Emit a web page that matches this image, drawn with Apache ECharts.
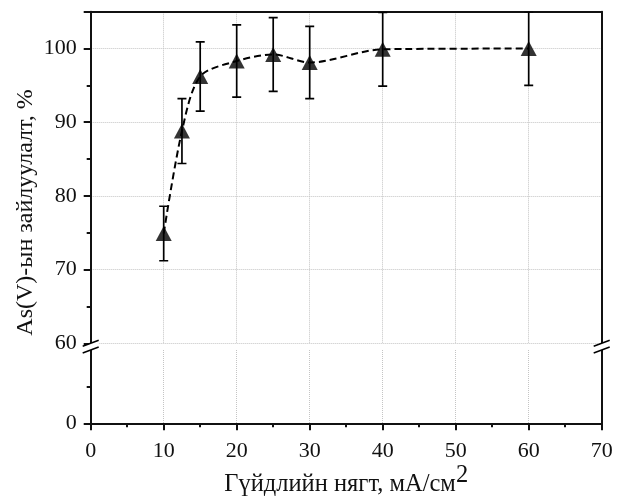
<!DOCTYPE html>
<html>
<head>
<meta charset="utf-8">
<script src="https://cdn.jsdelivr.net/npm/echarts@6/dist/echarts.min.js"></script>
<style>
  html, body { margin: 0; padding: 0; background: #fff; }
  #chart { width: 622px; height: 499px; }
</style>
</head>
<body>
<div id="chart"></div>
<script>
// current density, mA/cm2
var xVals = [10, 12.5, 15, 20, 25, 30, 40, 60];
// As(V) removal, %
var removal = [74.9, 88.8, 96.2, 98.3, 99.2, 98.1, 99.9, 100.0];
// error (+/-)
var errVals = [3.7, 4.4, 4.7, 4.9, 5.0, 4.9, 5.0, 5.0];

var FONT = '"Liberation Serif", "Times New Roman", serif';
var AXIS_COLOR = '#111';

var lineData = [];
var errData = [];
for (var i = 0; i < xVals.length; i++) {
  lineData.push([xVals[i], removal[i]]);
  errData.push([xVals[i], removal[i] - errVals[i], removal[i] + errVals[i]]);
}

var myChart = echarts.init(document.getElementById('chart'), null, {renderer: 'canvas'});

var axisLine = {show: true, onZero: false, lineStyle: {color: AXIS_COLOR, width: 2}};
var gridLine = {show: true, lineStyle: {color: '#c4c4c4', type: 'dotted', width: 1}};
var labelStyle = {color: '#111', fontFamily: FONT, fontSize: 22};

var option = {
  backgroundColor: '#fff',
  animation: false,
  grid: [
    {left: 90.7, right: 20.3, top: 11.7, height: 331.6},
    {left: 90.7, right: 20.3, top: 350, height: 73.3}
  ],
  xAxis: [
    {
      // upper part: top border + vertical grid lines
      gridIndex: 0, type: 'value', position: 'top',
      min: 0, max: 70, interval: 10,
      axisLine: axisLine,
      axisTick: {show: false},
      axisLabel: {show: false},
      splitLine: gridLine
    },
    {
      gridIndex: 1, type: 'value', position: 'bottom',
      min: 0, max: 70, interval: 10,
      axisLine: axisLine,
      axisTick: {show: true, length: 7, lineStyle: {color: AXIS_COLOR, width: 2}},
      minorTick: {show: true, splitNumber: 2, length: 4, lineStyle: {color: AXIS_COLOR, width: 2}},
      axisLabel: Object.assign({margin: 17}, labelStyle),
      splitLine: gridLine,
      name: '{a|Гүйдлийн нягт, мА/см}{s|2}',
      nameLocation: 'middle',
      nameGap: 40,
      nameTextStyle: {
        rich: {
          a: {fontFamily: FONT, fontSize: 24.5, lineHeight: 24, color: '#111', padding: [9, 0, 0, 0]},
          s: {fontFamily: FONT, fontSize: 24.5, lineHeight: 24, color: '#111', padding: [0, 0, 9, 0]}
        }
      }
    }
  ],
  yAxis: [
    {
      gridIndex: 0, type: 'value', position: 'left',
      min: 60, max: 105, interval: 10,
      axisLine: axisLine,
      axisTick: {show: true, length: 7, lineStyle: {color: AXIS_COLOR, width: 2}},
      minorTick: {show: true, splitNumber: 2, length: 4, lineStyle: {color: AXIS_COLOR, width: 2}},
      axisLabel: Object.assign({margin: 14, showMaxLabel: false}, labelStyle),
      splitLine: gridLine
    },
    {
      gridIndex: 1, type: 'value', position: 'left',
      min: 0, max: 60, interval: 60,
      axisLine: axisLine,
      axisTick: {show: true, length: 7, lineStyle: {color: AXIS_COLOR, width: 2}},
      minorTick: {show: true, splitNumber: 2, length: 4, lineStyle: {color: AXIS_COLOR, width: 2}},
      axisLabel: Object.assign({margin: 14, showMaxLabel: false}, labelStyle),
      splitLine: {show: false}
    },
    {
      gridIndex: 0, type: 'value', position: 'right',
      min: 60, max: 105,
      axisLine: axisLine, axisTick: {show: false}, axisLabel: {show: false}, splitLine: {show: false}
    },
    {
      gridIndex: 1, type: 'value', position: 'right',
      min: 0, max: 60,
      axisLine: axisLine, axisTick: {show: false}, axisLabel: {show: false}, splitLine: {show: false}
    }
  ],
  series: [
    {
      name: 'curve',
      type: 'line',
      xAxisIndex: 0, yAxisIndex: 0,
      data: lineData,
      smooth: 0.3,
      showSymbol: false,
      lineStyle: {color: '#000', width: 2, type: [7, 4]},
      z: 2
    },
    {
      name: 'error',
      type: 'custom',
      xAxisIndex: 0, yAxisIndex: 0,
      clip: true,
      data: errData,
      encode: {x: 0, y: [1, 2]},
      renderItem: function (params, api) {
        var lo = api.coord([api.value(0), api.value(1)]);
        var hi = api.coord([api.value(0), api.value(2)]);
        var cap = 4.5;
        var st = {stroke: '#000', lineWidth: 1.7};
        return {
          type: 'group',
          children: [
            {type: 'line', shape: {x1: lo[0], y1: lo[1], x2: hi[0], y2: hi[1]}, style: st},
            {type: 'line', shape: {x1: lo[0] - cap, y1: lo[1], x2: lo[0] + cap, y2: lo[1]}, style: st},
            {type: 'line', shape: {x1: hi[0] - cap, y1: hi[1], x2: hi[0] + cap, y2: hi[1]}, style: st}
          ]
        };
      },
      z: 3
    },
    {
      name: 'points',
      type: 'scatter',
      xAxisIndex: 0, yAxisIndex: 0,
      data: lineData,
      symbol: 'triangle',
      symbolSize: [16, 15],
      itemStyle: {color: '#000'},
      z: 4
    }
  ]
};

myChart.setOption(option);

// axis-break marks "//" on left and right sides, y-axis title
function breakMark(cx, yTop, yBot) {
  var dx = 8, dy = 3;
  return {
    type: 'group', z: 100,
    children: [
      {type: 'polygon', shape: {points: [[cx - dx, yTop + dy], [cx + dx, yTop - dy], [cx + dx, yBot - dy], [cx - dx, yBot + dy]]},
        style: {fill: '#fff'}, z: 100},
      {type: 'line', shape: {x1: cx - dx, y1: yTop + dy, x2: cx + dx, y2: yTop - dy}, style: {stroke: '#000', lineWidth: 1.5}, z: 101},
      {type: 'line', shape: {x1: cx - dx, y1: yBot + dy, x2: cx + dx, y2: yBot - dy}, style: {stroke: '#000', lineWidth: 1.5}, z: 101}
    ]
  };
}
var pTopL = myChart.convertToPixel({gridIndex: 0}, [0, 60]);
var pTopR = myChart.convertToPixel({gridIndex: 0}, [70, 60]);
var pBotL = myChart.convertToPixel({gridIndex: 1}, [0, 60]);
var pAll0 = myChart.convertToPixel({gridIndex: 1}, [0, 0]);
var pAllTop = myChart.convertToPixel({gridIndex: 0}, [0, 105]);

myChart.setOption({
  graphic: [
    breakMark(pTopL[0], pTopL[1], pBotL[1]),
    breakMark(pTopR[0], pTopR[1], pBotL[1]),
    {
      type: 'text',
      x: 26, y: (pAll0[1] + pAllTop[1]) / 2 - 5,
      rotation: Math.PI / 2,
      style: {
        text: 'As(V)-ын зайлуулалт, %',
        fontFamily: FONT, fontSize: 24, fill: '#111',
        align: 'center', verticalAlign: 'middle'
      }
    }
  ]
});

window.addEventListener('resize', function () { myChart.resize(); });
</script>
</body>
</html>
